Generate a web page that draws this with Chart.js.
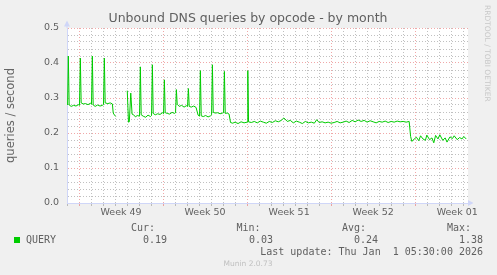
<!DOCTYPE html>
<html>
<head>
<meta charset="utf-8">
<script src="https://cdn.jsdelivr.net/npm/chart.js@4"></script>
<style>
    html, body { margin: 0; padding: 0; background: #f0f0f0; }
</style>
</head>
<body>
<canvas id="graph" width="497" height="275"></canvas>
<script>
// position of each sample in days from the left edge of the graph (2h per pixel, 12px per day)
const dayPos = [
    0.05, 0.11, 0.18, 0.35, 0.55, 0.75, 0.95, 1.04, 1.11, 1.18, 1.35, 1.55, 1.75, 1.95,
    2.04, 2.11, 2.18, 2.35, 2.55, 2.75, 2.95, 3.04, 3.11, 3.18, 3.40, 3.60, 3.78, 3.85, 3.98, 4.06,
    4.50,
    5.02, 5.12, 5.19, 5.31, 5.42, 5.55, 5.70, 5.85, 6.04, 6.11, 6.18, 6.35, 6.55, 6.75, 6.95,
    7.04, 7.11, 7.18, 7.35, 7.55, 7.75, 7.95, 8.04, 8.11, 8.18, 8.35, 8.55, 8.75, 8.95,
    9.04, 9.11, 9.18, 9.35, 9.55, 9.75, 9.95, 10.04, 10.11, 10.18, 10.35, 10.55, 10.75, 10.92,
    11.04, 11.11, 11.18, 11.35, 11.55, 11.75, 11.95, 12.04, 12.11, 12.18, 12.35, 12.55, 12.75, 12.95,
    13.04, 13.11, 13.18, 13.35, 13.50, 13.62, 13.80, 14.00, 14.25, 14.50, 14.75, 15.00, 15.06, 15.12,
    15.35, 15.60, 15.85, 16.10, 16.35, 16.60, 16.85, 17.10, 17.35, 17.60, 17.85, 18.06, 18.35, 18.60,
    18.85, 19.10, 19.35, 19.60, 19.85, 20.10, 20.35, 20.60, 20.80, 21.00, 21.25, 21.50, 21.75, 22.00,
    22.25, 22.50, 22.75, 23.00, 23.25, 23.50, 23.75, 24.00, 24.25, 24.50, 24.75, 25.00, 25.25, 25.50,
    25.75, 26.00, 26.25, 26.50, 26.75, 27.00, 27.25, 27.50, 27.75, 28.00, 28.25, 28.50, 28.62, 28.72,
    28.90, 29.10, 29.30, 29.45, 29.65, 29.85, 29.97, 30.20, 30.40, 30.55, 30.70, 30.90, 31.05, 31.30,
    31.50, 31.65, 31.90, 32.10, 32.25, 32.50, 32.70, 32.90, 33.05, 33.25
];

// QUERY rate (queries / second), null = no data
const queries = [
    0.280, 0.420, 0.280, 0.276, 0.279, 0.277, 0.281, 0.279, 0.414, 0.286, 0.283, 0.284, 0.281, 0.285,
    0.282, 0.420, 0.280, 0.276, 0.280, 0.277, 0.279, 0.281, 0.414, 0.286, 0.284, 0.286, 0.283, 0.257, 0.250, 0.247,
    null,
    0.321, 0.231, 0.232, 0.314, 0.254, 0.252, 0.246, 0.250, 0.248, 0.389, 0.252, 0.248, 0.245, 0.251, 0.247,
    0.250, 0.395, 0.256, 0.252, 0.255, 0.253, 0.258, 0.255, 0.352, 0.258, 0.256, 0.254, 0.259, 0.256,
    0.258, 0.324, 0.282, 0.276, 0.279, 0.274, 0.278, 0.276, 0.327, 0.276, 0.274, 0.277, 0.273, 0.251,
    0.248, 0.378, 0.249, 0.247, 0.250, 0.246, 0.249, 0.252, 0.395, 0.259, 0.257, 0.258, 0.255, 0.257,
    0.258, 0.376, 0.256, 0.257, 0.254, 0.230, 0.228, 0.231, 0.227, 0.232, 0.229, 0.231, 0.378, 0.232,
    0.230, 0.233, 0.229, 0.234, 0.231, 0.228, 0.233, 0.230, 0.235, 0.232, 0.236, 0.243, 0.233, 0.236,
    0.229, 0.234, 0.231, 0.227, 0.233, 0.229, 0.231, 0.228, 0.238, 0.230, 0.232, 0.229, 0.231, 0.228,
    0.230, 0.233, 0.229, 0.231, 0.234, 0.230, 0.236, 0.232, 0.237, 0.233, 0.236, 0.231, 0.235, 0.232,
    0.229, 0.233, 0.231, 0.234, 0.230, 0.233, 0.231, 0.234, 0.232, 0.233, 0.231, 0.233, 0.190, 0.176,
    0.182, 0.188, 0.178, 0.192, 0.183, 0.179, 0.194, 0.181, 0.186, 0.172, 0.193, 0.183, 0.195, 0.179,
    0.186, 0.174, 0.189, 0.184, 0.192, 0.181, 0.187, 0.183, 0.190, 0.183
];

// week labels sit in the middle of each week (weeks start on day 1, 8, 15, ...)
const weekLabels = ['Week 49', 'Week 50', 'Week 51', 'Week 52', 'Week 01'];
const weekCenters = [4.5, 11.5, 18.5, 25.5, 32.5];

const legendName = 'QUERY';
const legendCur = '0.19';
const legendMin = '0.03';
const legendAvg = '0.24';
const legendMax = '1.38';
const lastUpdate = 'Last update: Thu Jan  1 05:30:00 2026';

const lineColor = '#00cc00';
const axisColor = '#cfd6f8';
const majorGrid = 'rgba(230, 110, 110, 0.6)';
const minorGrid = 'rgba(150, 150, 150, 0.6)';
const textColor = '#606060';
const sans = 'DejaVu Sans';
const mono = 'DejaVu Sans Mono';

function dayTicks() {
    let t = [];
    for (let d = 0; d <= 33; d++) t.push({value: d});
    return t;
}

function rateTicks() {
    let t = [];
    for (let i = 0; i <= 25; i++) t.push({value: i * 0.02});
    return t;
}

function isMajorDay(v) {
    return (Math.round(v) - 1) % 7 === 0;
}

function isMajorRate(v) {
    return Math.round(v * 100) % 10 === 0;
}

// background, title, arrows, side text and legend, the rrdtool way
const muninDecor = {
    id: 'muninDecor',
    beforeDraw(chart) {
        const ctx = chart.ctx;
        const a = chart.chartArea;
        ctx.save();
        ctx.fillStyle = '#f0f0f0';
        ctx.fillRect(0, 0, chart.width, chart.height);
        ctx.fillStyle = '#ffffff';
        ctx.fillRect(a.left, a.top, a.right - a.left, a.bottom - a.top);
        ctx.restore();
    },
    afterDraw(chart) {
        const ctx = chart.ctx;
        const a = chart.chartArea;
        ctx.save();

        // title
        ctx.fillStyle = textColor;
        ctx.font = '12.5px "' + sans + '"';
        ctx.textAlign = 'center';
        ctx.textBaseline = 'middle';
        ctx.fillText('Unbound DNS queries by opcode - by month', 248, 19);

        // axis arrows
        ctx.fillStyle = axisColor;
        ctx.fillRect(a.left - 0.5, a.top - 6, 1, 6);
        ctx.beginPath();
        ctx.moveTo(a.left, a.top - 7.5);
        ctx.lineTo(a.left - 3, a.top - 1.5);
        ctx.lineTo(a.left + 3, a.top - 1.5);
        ctx.closePath();
        ctx.fill();
        ctx.beginPath();
        ctx.moveTo(a.right + 5.5, a.bottom);
        ctx.lineTo(a.right, a.bottom - 3);
        ctx.lineTo(a.right, a.bottom + 3);
        ctx.closePath();
        ctx.fill();

        // rrdtool credit on the right edge
        ctx.save();
        ctx.translate(487, 5);
        ctx.rotate(Math.PI / 2);
        ctx.fillStyle = '#c8c8c8';
        ctx.font = '7.5px "' + sans + '"';
        ctx.textAlign = 'left';
        ctx.textBaseline = 'middle';
        ctx.fillText('RRDTOOL / TOBI OETIKER', 0, 0);
        ctx.restore();

        // legend
        ctx.font = '10px "' + mono + '"';
        ctx.fillStyle = textColor;
        ctx.textBaseline = 'middle';
        ctx.textAlign = 'right';
        ctx.fillText('Cur:', 155, 228);
        ctx.fillText('Min:', 260.5, 228);
        ctx.fillText('Avg:', 366, 228);
        ctx.fillText('Max:', 471, 228);
        ctx.fillText(legendCur, 167, 240);
        ctx.fillText(legendMin, 273, 240);
        ctx.fillText(legendAvg, 378, 240);
        ctx.fillText(legendMax, 483, 240);
        ctx.fillText(lastUpdate, 483, 252);
        ctx.textAlign = 'left';
        ctx.fillText(legendName, 26, 240);
        ctx.fillStyle = lineColor;
        ctx.fillRect(14, 237, 6, 6);

        // footer
        ctx.fillStyle = '#c0c0c0';
        ctx.font = '7.5px "' + sans + '"';
        ctx.textAlign = 'center';
        ctx.fillText('Munin 2.0.73', 248, 264);

        ctx.restore();
    }
};

const points = dayPos.map((d, i) => ({x: d, y: queries[i]}));

new Chart(document.getElementById('graph'), {
    type: 'line',
    data: {
        datasets: [{
            label: legendName,
            data: points,
            borderColor: lineColor,
            borderWidth: 1,
            pointRadius: 0,
            tension: 0,
            spanGaps: false,
            fill: false
        }]
    },
    options: {
        responsive: false,
        animation: false,
        layout: {padding: {top: 28, right: 29, left: 0, bottom: 0}},
        plugins: {
            legend: {display: false},
            tooltip: {enabled: false},
            title: {display: false}
        },
        scales: {
            x: {
                type: 'linear',
                position: 'bottom',
                weight: 0,
                min: 0,
                max: 33.4,
                afterBuildTicks: s => { s.ticks = dayTicks(); },
                afterFit: s => { s.height = 4; },
                ticks: {display: false, autoSkip: false},
                grid: {
                    color: c => isMajorDay(c.tick.value) ? majorGrid : minorGrid,
                    tickColor: c => isMajorDay(c.tick.value) ? majorGrid : minorGrid,
                    lineWidth: 1,
                    drawTicks: true,
                    tickLength: 3
                },
                border: {color: axisColor, width: 1, dash: [1, 2]}
            },
            x2: {
                type: 'linear',
                position: 'bottom',
                weight: 1,
                min: 0,
                max: 33.4,
                afterBuildTicks: s => { s.ticks = weekCenters.map(v => ({value: v})); },
                afterFit: s => { s.height = 68; },
                ticks: {
                    autoSkip: false,
                    maxRotation: 0,
                    padding: 0,
                    color: textColor,
                    font: {family: sans, size: 9.5},
                    callback: (v, i) => weekLabels[i]
                },
                grid: {display: false, drawTicks: false},
                border: {display: false}
            },
            y: {
                min: 0,
                max: 0.5,
                afterBuildTicks: s => { s.ticks = rateTicks(); },
                afterFit: s => { s.width = 67; },
                ticks: {
                    autoSkip: false,
                    padding: 8,
                    color: textColor,
                    font: {family: sans, size: 9.5},
                    callback: v => isMajorRate(v) ? v.toFixed(1) : ''
                },
                grid: {
                    color: c => isMajorRate(c.tick.value) ? majorGrid : minorGrid,
                    lineWidth: 1,
                    drawTicks: false
                },
                border: {color: axisColor, width: 1, dash: [1, 2]},
                title: {
                    display: true,
                    text: 'queries / second',
                    color: '#666',
                    font: {family: sans, size: 11.5},
                    padding: {top: 4, bottom: 0}
                }
            }
        }
    },
    plugins: [muninDecor]
});
</script>
</body>
</html>
